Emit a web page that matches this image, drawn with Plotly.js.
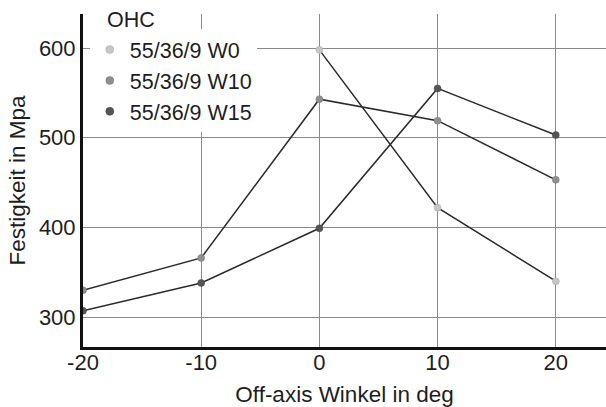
<!DOCTYPE html>
<html><head><meta charset="utf-8">
<script src="https://cdn.plot.ly/plotly-3.0.1.min.js"></script>
<style>body{margin:0;background:#fff}#c{width:606px;height:407px}</style>
</head><body><div id="c"></div>
<script>
const legendTitle = "OHC";
const seriesNames = ["55/36/9 W0", "55/36/9 W10", "55/36/9 W15"];
const x_W0 = [0, 10, 20];
const y_W0 = [598, 422, 340];
const x_W10 = [-20, -10, 0, 10, 20];
const y_W10 = [330, 366, 543, 519, 453];
const x_W15 = [-20, -10, 0, 10, 20];
const y_W15 = [307, 338, 399, 555, 503];
const xTicks = [-20, -10, 0, 10, 20];
const yTicks = [300, 400, 500, 600];

const markerColors = ["#c6c6c6", "#8e8e8e", "#555555"];
const markerLines = ["#a8a8a8", "#7a7a7a", "#444444"];
const xs = [x_W0, x_W10, x_W15], ys = [y_W0, y_W10, y_W15];
const traces = xs.map((x, i) => ({
  x: x, y: ys[i], name: seriesNames[i], type: "scatter", mode: "lines+markers",
  line: {color: "#2a2a2a", width: 1.5},
  marker: {color: markerColors[i], size: 7, line: {color: markerLines[i], width: 0.5}},
  showlegend: false
}));
// legend entries: markers only
const legendTraces = xs.map((x, i) => ({
  x: [null], y: [null], name: seriesNames[i], type: "scatter", mode: "markers",
  marker: {color: markerColors[i], size: 8, line: {color: markerLines[i], width: 0.5}},
  showlegend: true
}));
const fam = "Liberation Sans, Arial, sans-serif";
const tickFont = {family: fam, color: "#1e1e1e", size: 22};
const titleFont = {family: fam, color: "#1e1e1e", size: 22.5};
const legFont = {family: fam, color: "#1e1e1e", size: 21.5};
const layout = {
  width: 606, height: 407,
  margin: {l: 83, r: 0, t: 14, b: 60},
  paper_bgcolor: "#fff", plot_bgcolor: "#fff",
  font: tickFont,
  showlegend: true,
  legend: {
    x: 0.013, y: 0.955, xanchor: "left", yanchor: "top",
    bgcolor: "#fff", font: legFont, tracegroupgap: 0
  },
  annotations: [{
    text: legendTitle, xref: "paper", yref: "paper",
    x: 0.042, y: 0.982, xanchor: "left", yanchor: "middle",
    showarrow: false, font: legFont
  }],
  xaxis: {
    range: [-20, 24.25], tickvals: xTicks, ticktext: xTicks.map(String),
    showgrid: true, gridcolor: "#8a8a8a", gridwidth: 1,
    showline: true, linecolor: "#111", linewidth: 3, zeroline: false,
    ticks: "", tickfont: tickFont, ticklabelstandoff: -6,
    title: {text: "Off-axis Winkel in deg", font: titleFont, standoff: 14}
  },
  yaxis: {
    range: [266.6, 638], tickvals: yTicks, ticktext: yTicks.map(String),
    showgrid: true, gridcolor: "#8a8a8a", gridwidth: 1,
    showline: true, linecolor: "#111", linewidth: 3, zeroline: false,
    ticks: "", tickfont: tickFont,
    title: {text: "Festigkeit in Mpa", font: titleFont, standoff: 8}
  }
};
Plotly.newPlot("c", traces.concat(legendTraces), layout, {staticPlot: true});
</script></body></html>
